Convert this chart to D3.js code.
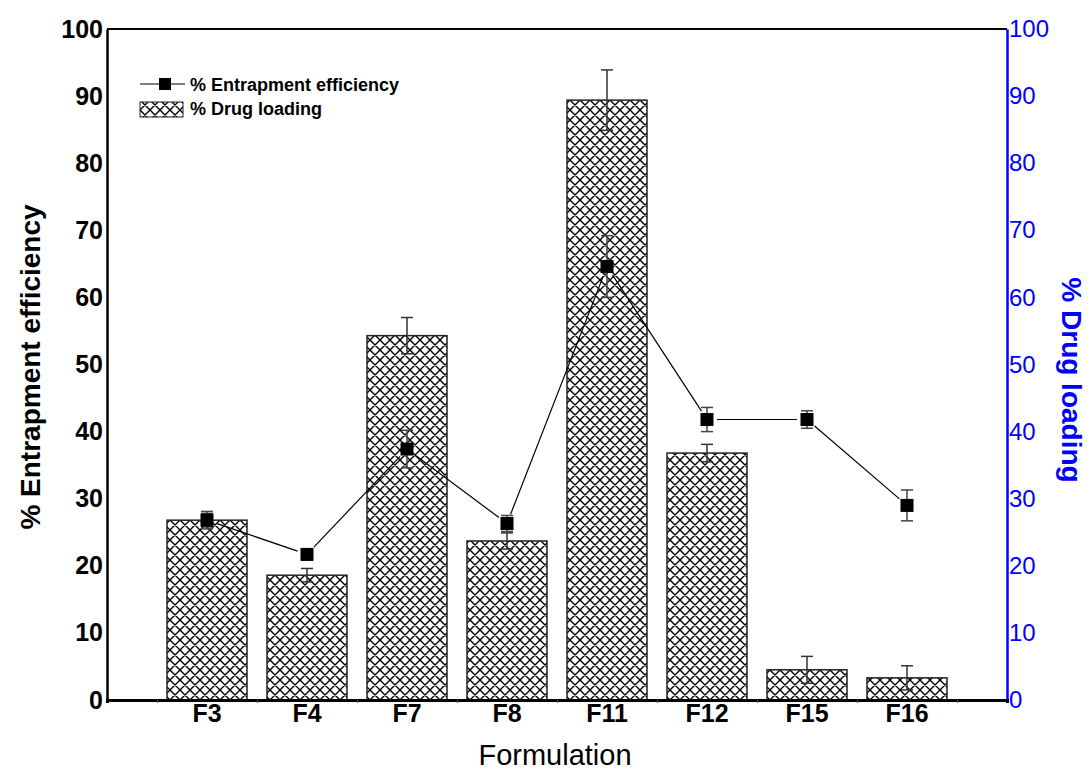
<!DOCTYPE html>
<html>
<head>
<meta charset="utf-8">
<script src="https://cdn.jsdelivr.net/npm/d3@7"></script>
<style>
  body { margin: 0; background: #fff; }
  text { font-family: Arial, "Liberation Sans", sans-serif; }
</style>
</head>
<body>
<div class="container"></div>
<script>
// data
const formulations = ["F3", "F4", "F7", "F8", "F11", "F12", "F15", "F16"]
const entrapment = [26.8, 21.7, 37.4, 26.3, 64.6, 41.8, 41.8, 29.0]
const entrapmentErr = [1.3, 0.8, 2.8, 1.2, 4.6, 1.8, 1.3, 2.3]
const drugLoading = [26.8, 18.6, 54.3, 23.7, 89.4, 36.8, 4.5, 3.3]
const drugLoadingErr = [1.0, 1.0, 2.7, 1.2, 4.5, 1.3, 2.0, 1.8]
const yTicks = [0, 10, 20, 30, 40, 50, 60, 70, 80, 90, 100]

const rows = formulations.map((f, i) => ({
  name: f, pos: i + 1,
  ee: entrapment[i], eeErr: entrapmentErr[i],
  dl: drugLoading[i], dlErr: drugLoadingErr[i]
}))

const w = 1091
const h = 773
const pLeft = 107, pRight = 1007, pTop = 29, pBottom = 700

const svg = d3.select('.container')
  .append('svg')
  .attr('width', w)
  .attr('height', h)

// hatch pattern for the bars
const pat = svg.append('defs')
  .append('pattern')
  .attr('id', 'hatch')
  .attr('patternUnits', 'userSpaceOnUse')
  .attr('width', 10)
  .attr('height', 10)
pat.append('rect').attr('width', 10).attr('height', 10).attr('fill', '#fff')
pat.append('path')
  .attr('d', 'M0,0L10,10M10,0L0,10M-1,1L1,-1M9,11L11,9M-1,9L1,11M9,-1L11,1')
  .attr('stroke', '#000')
  .attr('stroke-width', 1.4)

// scales, categories sit on 1..8 of a 0..9 axis
const xScale = d3.scaleLinear().domain([0, 9]).range([pLeft, pRight])
const yScale = d3.scaleLinear().domain([0, 100]).range([pBottom, pTop])
const y2Scale = d3.scaleLinear().domain([0, 100]).range([pBottom, pTop])
const barW = xScale(0.8) - xScale(0)

// bars (% drug loading)
svg.append('g')
  .selectAll('rect')
  .data(rows)
  .enter()
  .append('rect')
  .attr('x', d => xScale(d.pos) - barW / 2)
  .attr('y', d => y2Scale(d.dl))
  .attr('width', barW)
  .attr('height', d => y2Scale(0) - y2Scale(d.dl))
  .attr('fill', 'url(#hatch)')
  .attr('stroke', '#222')
  .attr('stroke-width', 1.5)

const errBars = (data, val, err, scale, color) => {
  const g = svg.append('g')
    .attr('stroke', color)
    .attr('stroke-width', 1.5)
    .selectAll('g')
    .data(data)
    .enter()
    .append('g')
  g.append('line')
    .attr('x1', d => xScale(d.pos)).attr('x2', d => xScale(d.pos))
    .attr('y1', d => scale(val(d) + err(d))).attr('y2', d => scale(val(d) - err(d)))
  g.append('line')
    .attr('x1', d => xScale(d.pos) - 6).attr('x2', d => xScale(d.pos) + 6)
    .attr('y1', d => scale(val(d) + err(d))).attr('y2', d => scale(val(d) + err(d)))
  g.append('line')
    .attr('x1', d => xScale(d.pos) - 6).attr('x2', d => xScale(d.pos) + 6)
    .attr('y1', d => scale(val(d) - err(d))).attr('y2', d => scale(val(d) - err(d)))
}

errBars(rows, d => d.dl, d => d.dlErr, y2Scale, '#333')

// connecting line, with a small gap around each marker
const gap = 10
const segs = d3.pairs(rows).map(([a, b]) => {
  const x1 = xScale(a.pos), y1 = yScale(a.ee), x2 = xScale(b.pos), y2 = yScale(b.ee)
  const len = Math.hypot(x2 - x1, y2 - y1)
  const ux = (x2 - x1) / len, uy = (y2 - y1) / len
  return [x1 + ux * gap, y1 + uy * gap, x2 - ux * gap, y2 - uy * gap]
})
svg.append('g')
  .selectAll('line')
  .data(segs)
  .enter()
  .append('line')
  .attr('x1', d => d[0]).attr('y1', d => d[1])
  .attr('x2', d => d[2]).attr('y2', d => d[3])
  .attr('stroke', '#000')
  .attr('stroke-width', 1.2)

errBars(rows, d => d.ee, d => d.eeErr, yScale, '#444')

// markers (% entrapment efficiency)
const ms = 13
svg.append('g')
  .selectAll('rect')
  .data(rows)
  .enter()
  .append('rect')
  .attr('x', d => xScale(d.pos) - ms / 2)
  .attr('y', d => yScale(d.ee) - ms / 2)
  .attr('width', ms)
  .attr('height', ms)
  .attr('fill', '#000')

// top frame
svg.append('line')
  .attr('x1', pLeft).attr('x2', pRight)
  .attr('y1', pTop).attr('y2', pTop)
  .attr('stroke', '#000')
  .attr('stroke-width', 2)

// left axis
const yAxis = d3.axisLeft(yScale).tickValues(yTicks).tickSize(0).tickPadding(4)
const gy = svg.append('g')
  .attr('transform', 'translate(' + pLeft + ',0)')
  .call(yAxis)
gy.select('.domain').attr('stroke', '#000').attr('stroke-width', 2.5)
gy.selectAll('text')
  .style('font-size', '25px')
  .style('font-weight', 'bold')
  .attr('fill', '#000')

// right axis in blue
const y2Axis = d3.axisRight(y2Scale).tickValues(yTicks).tickSize(0).tickPadding(2)
const gy2 = svg.append('g')
  .attr('transform', 'translate(' + pRight + ',0)')
  .call(y2Axis)
gy2.select('.domain').attr('stroke', '#0000ff').attr('stroke-width', 2.5)
gy2.selectAll('text')
  .style('font-size', '24px')
  .attr('fill', '#0000ff')

// bottom axis: tick marks between categories, labels under categories
const xAxis = d3.axisBottom(xScale)
  .tickValues(d3.range(0.5, 9, 1))
  .tickSize(3)
  .tickFormat('')
const gx = svg.append('g')
  .attr('transform', 'translate(0,' + pBottom + ')')
  .call(xAxis)
gx.select('.domain').attr('stroke', '#000').attr('stroke-width', 3)
gx.selectAll('.tick line').attr('stroke', '#555').attr('stroke-width', 1)

svg.append('g')
  .selectAll('text')
  .data(rows)
  .enter()
  .append('text')
  .attr('x', d => xScale(d.pos))
  .attr('y', 722)
  .attr('text-anchor', 'middle')
  .style('font-size', '25px')
  .style('font-weight', 'bold')
  .text(d => d.name)

// axis titles
svg.append('text')
  .attr('transform', 'translate(40,367) rotate(-90)')
  .attr('text-anchor', 'middle')
  .style('font-size', '28px')
  .style('font-weight', 'bold')
  .text('% Entrapment efficiency')

svg.append('text')
  .attr('transform', 'translate(1062,380) rotate(90)')
  .attr('text-anchor', 'middle')
  .style('font-size', '28px')
  .style('font-weight', 'bold')
  .attr('fill', '#0000ff')
  .text('% Drug loading')

svg.append('text')
  .attr('x', 555)
  .attr('y', 765)
  .attr('text-anchor', 'middle')
  .style('font-size', '29px')
  .text('Formulation')

// legend
const legend = svg.append('g').attr('id', 'legend')
legend.append('line')
  .attr('x1', 140).attr('x2', 185).attr('y1', 84).attr('y2', 84)
  .attr('stroke', '#000').attr('stroke-width', 1.2)
legend.append('rect')
  .attr('x', 159).attr('y', 78).attr('width', 12).attr('height', 12)
  .attr('fill', '#000')
legend.append('rect')
  .attr('x', 140).attr('y', 102).attr('width', 43).attr('height', 15)
  .attr('fill', 'url(#hatch)')
  .attr('stroke', '#222').attr('stroke-width', 1)
legend.append('text')
  .attr('x', 190).attr('y', 91)
  .style('font-size', '18px').style('font-weight', 'bold')
  .text('% Entrapment efficiency')
legend.append('text')
  .attr('x', 190).attr('y', 115)
  .style('font-size', '18px').style('font-weight', 'bold')
  .text('% Drug loading')
</script>
</body>
</html>
